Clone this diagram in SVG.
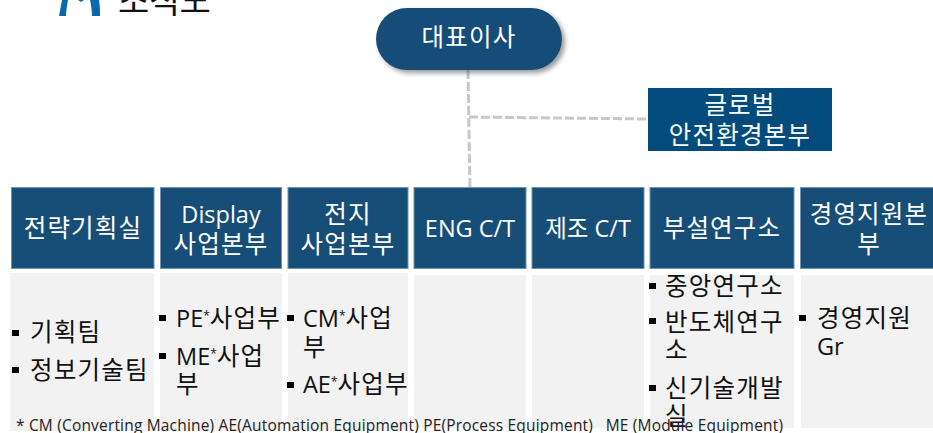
<svg xmlns="http://www.w3.org/2000/svg" width="933" height="433" viewBox="0 0 933 433">
<style>
text{font-family:"Open Sans","Noto Sans CJK KR",sans-serif}
.h{fill:#174e78;stroke:#6f93b0;stroke-width:1}
.b{fill:#f2f2f2}
.w{fill:#fff;font-size:24.500px;text-anchor:middle;letter-spacing:1.200px}
.l{font-size:23.500px;letter-spacing:0}
.t{fill:#111;font-size:24.500px;letter-spacing:1.200px}
.a{font-size:23.500px;letter-spacing:0}
.u{font-size:12px;letter-spacing:0}
.s{fill:#000}
.c{fill:none;stroke:#c8c8c8;stroke-width:3;stroke-dasharray:9 3}
</style>
<defs><filter id="sh" x="-10%" y="-20%" width="125%" height="150%"><feDropShadow dx="3" dy="3" stdDeviation="2.5" flood-color="#000" flood-opacity=".4"/></filter></defs>
<g id="logo"><path d="M59 16L62 0H68C67 6 66 11 66 16ZM92 16C92 10 91 5 90 0H99C100 6 100 11 100 16ZM78 0H84L81 2Z" fill="#0a69ad"/><text x="118" y="13" font-size="34" fill="#111" letter-spacing="-.5">조직도</text></g>
<g id="connectors"><path class="c" d="M468 70L470 190"/><path class="c" d="M469 117L648 119"/></g>
<g id="ceo"><rect x="376" y="8" width="186" height="62" rx="31" fill="#174e78" filter="url(#sh)"/><text class="w" x="469" y="46">대표이사</text></g>
<g id="safety"><rect x="648" y="88" width="184" height="63" fill="#024c7d"/><text class="w" x="740" y="114">글로벌</text><text class="w" x="740" y="144">안전환경본부</text></g>
<g id="d1"><rect class="h" x="11.500" y="187.500" width="142.500" height="81"/><rect class="b" x="10" y="273" width="144" height="158"/><text class="w" x="83" y="237">전략기획실</text><rect class="s" x="12" y="330" width="7" height="6"/><text class="t" x="30" y="341">기획팀</text><rect class="s" x="12" y="367" width="7" height="6"/><text class="t" x="30" y="379">정보기술팀</text></g>
<g id="d2"><rect class="h" x="160.500" y="187.500" width="121" height="81"/><rect class="b" x="160" y="273" width="122" height="158"/><text class="w l" x="221" y="223">Display</text><text class="w" x="221" y="253">사업본부</text><rect class="s" x="159" y="315" width="7" height="6"/><text class="t" x="176" y="327"><tspan class="a">PE</tspan><tspan class="u" dy="-7">*</tspan><tspan dy="7">사업부</tspan></text><rect class="s" x="159" y="353" width="7" height="6"/><text class="t" x="176" y="365"><tspan class="a">ME</tspan><tspan class="u" dy="-7">*</tspan><tspan dy="7">사업</tspan></text><text class="t" x="176" y="393">부</text></g>
<g id="d3"><rect class="h" x="288" y="187.500" width="120" height="81"/><rect class="b" x="288" y="273" width="120" height="158"/><text class="w" x="348" y="223">전지</text><text class="w" x="348" y="253">사업본부</text><rect class="s" x="287" y="315" width="7" height="6"/><text class="t" x="303" y="327"><tspan class="a">CM</tspan><tspan class="u" dy="-7">*</tspan><tspan dy="7">사업</tspan></text><text class="t" x="303" y="356">부</text><rect class="s" x="287" y="382" width="7" height="6"/><text class="t" x="303" y="393"><tspan class="a">AE</tspan><tspan class="u" dy="-7">*</tspan><tspan dy="7">사업부</tspan></text></g>
<g id="d4"><rect class="h" x="414" y="187.500" width="112" height="81"/><rect class="b" x="414" y="275" width="112" height="153"/><text class="w l" x="470" y="237">ENG C/T</text></g>
<g id="d5"><rect class="h" x="532" y="187.500" width="112" height="81"/><rect class="b" x="532" y="275" width="112" height="153"/><text class="w l" x="588" y="237">제조 C/T</text></g>
<g id="d6"><rect class="h" x="650" y="187.500" width="144" height="81"/><rect class="b" x="650" y="275" width="144" height="153"/><text class="w" x="722" y="237">부설연구소</text><rect class="s" x="649" y="283" width="7" height="6"/><text class="t" x="665" y="295">중앙연구소</text><rect class="s" x="649" y="318" width="7" height="6"/><text class="t" x="665" y="331">반도체연구</text><text class="t" x="665" y="359">소</text><rect class="s" x="649" y="385" width="7" height="6"/><text class="t" x="665" y="397">신기술개발</text><text class="t" x="665" y="425">실</text></g>
<g id="d7"><rect class="h" x="800.500" y="187.500" width="134" height="81"/><rect class="b" x="801" y="275" width="132" height="153"/><text class="w" x="869" y="223">경영지원본</text><text class="w" x="869" y="253">부</text><rect class="s" x="799" y="315" width="7" height="6"/><text class="t" x="817" y="327">경영지원</text><text class="t a" x="817" y="355">Gr</text></g>
<text id="note" x="16" y="431" font-size="15.500" fill="#222" xml:space="preserve" textLength="767">* CM (Converting Machine) AE(Automation Equipment) PE(Process Equipment)   ME (Module Equipment)</text>
</svg>
